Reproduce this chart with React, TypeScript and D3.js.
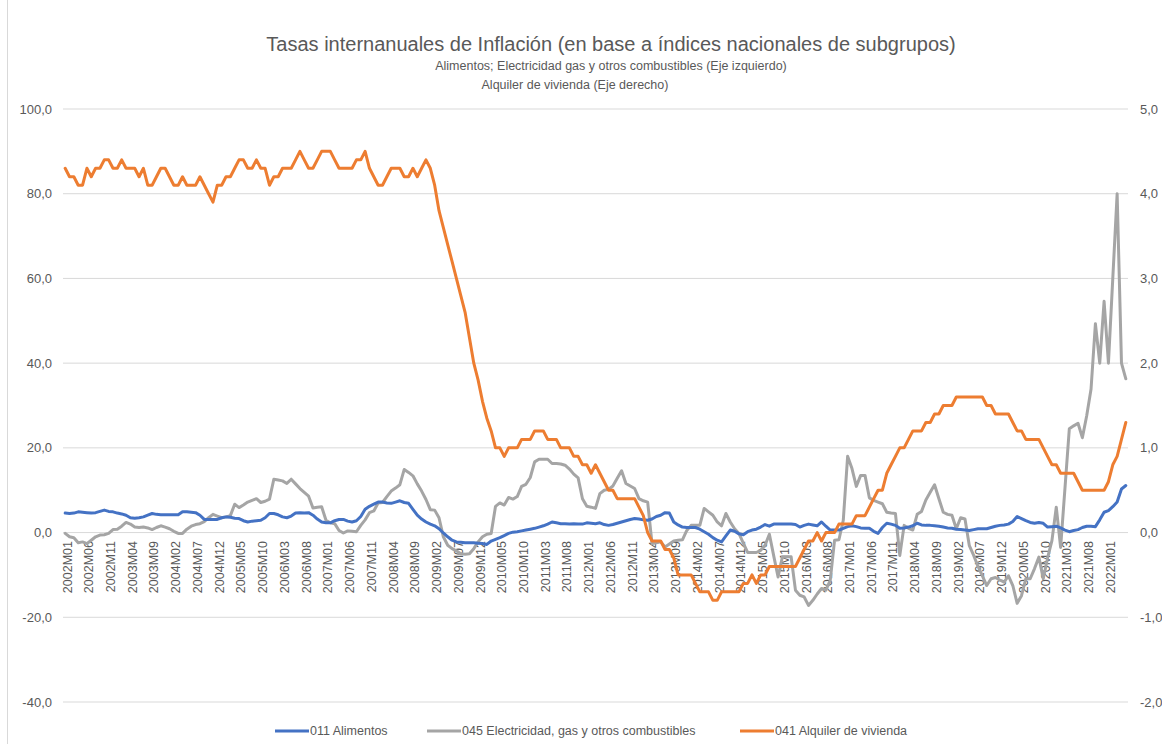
import React from "react";
import * as d3 from "d3";

// categories: monthly, 2002M01 .. 2022M05
const startYear = 2002;
const nMonths = 245;
const months = d3.range(nMonths).map(
  (i) => `${startYear + Math.floor(i / 12)}M${String((i % 12) + 1).padStart(2, "0")}`
);

// 011 Alimentos (left axis), one row per year
const alimentos = [
  4.6, 4.5, 4.6, 4.9, 4.8, 4.7, 4.6, 4.7, 5.0, 5.3, 5.0, 4.9,
  4.6, 4.4, 4.1, 3.5, 3.4, 3.5, 3.7, 4.1, 4.5, 4.3, 4.2, 4.2,
  4.2, 4.2, 4.2, 4.9, 4.9, 4.8, 4.7, 4.1, 3.1, 3.1, 3.1, 3.1,
  3.5, 3.7, 3.6, 3.4, 3.3, 2.8, 2.5, 2.7, 2.8, 2.9, 3.5, 4.5,
  4.5, 4.2, 3.7, 3.5, 3.9, 4.6, 4.7, 4.6, 4.7, 4.1, 3.2, 2.5,
  2.3, 2.3, 2.8, 3.1, 3.1, 2.7, 2.5, 2.8, 3.8, 5.5, 6.2, 6.7,
  7.2, 7.2, 7.0, 6.9, 7.2, 7.5, 7.1, 6.9, 5.5, 4.1, 3.2, 2.5,
  2.0, 1.6, 0.9, -0.1, -1.0, -1.8, -2.2, -2.3, -2.4, -2.4, -2.4, -2.5,
  -2.6, -2.8, -2.0, -1.6, -1.2, -0.7, -0.2, 0.1, 0.2, 0.4, 0.6, 0.8,
  1.0, 1.3, 1.6, 2.0, 2.5, 2.3, 2.1, 2.1, 2.0, 2.1, 2.0, 2.0,
  2.3, 2.2, 2.1, 2.3, 1.9, 1.7, 1.9, 2.2, 2.5, 2.8, 3.1, 3.3,
  3.2, 3.0, 2.9, 3.2, 3.8, 4.1, 4.7, 4.6, 2.5, 1.8, 1.3, 1.2,
  1.2, 1.2, 0.8, 0.2, -0.4, -1.2, -1.8, -2.2, -0.8, 0.6, 0.3, -0.3,
  -0.5, 0.2, 0.6, 0.8, 1.3, 1.9, 1.5, 2.0, 2.0, 2.0, 2.0, 2.0,
  1.9, 1.3, 1.7, 2.0, 1.8, 1.6, 2.5, 1.5, 0.6, 0.6, 0.6, 1.0,
  1.4, 1.6, 1.4, 1.1, 1.0, 1.0, 0.3, -0.2, 1.2, 2.2, 2.0, 1.7,
  1.0, 1.1, 1.3, 1.6, 2.2, 1.8, 1.7, 1.7, 1.6, 1.5, 1.3, 1.1,
  1.0, 0.8, 0.7, 0.6, 0.5, 0.7, 0.9, 0.9, 0.9, 1.2, 1.5, 1.7,
  1.8, 2.0, 2.6, 3.8, 3.3, 2.8, 2.4, 2.2, 2.4, 2.2, 1.3, 1.4,
  1.5, 1.1, 0.6, 0.2, 0.5, 0.7, 1.2, 1.5, 1.5, 1.4, 3.0, 4.8,
  5.2, 6.1, 7.2, 10.3, 11.1,
];

// 045 Electricidad, gas y otros combustibles (left axis)
const electricidad = [
  -0.2, -1.0, -1.2, -2.4, -2.2, -2.6, -1.8, -1.0, -0.6, -0.5, -0.2, 0.7,
  0.8, 1.5, 2.4, 2.0, 1.3, 1.2, 1.3, 1.1, 0.7, 1.2, 1.6, 1.3,
  0.9, 0.3, -0.2, -0.2, 0.8, 1.5, 1.9, 2.1, 2.6, 3.5, 4.3, 3.9,
  3.5, 3.7, 4.0, 6.7, 5.9, 6.5, 7.2, 7.6, 8.0, 7.1, 7.4, 7.9,
  12.6, 12.4, 12.2, 11.6, 12.6, 11.5, 10.4, 9.5, 8.6, 5.8, 6.0, 6.1,
  2.9, 2.3, 2.1, 0.5, -0.1, 0.4, 0.3, 0.2, 1.7, 3.0, 4.7, 5.1,
  7.0, 7.1, 8.5, 9.8, 10.5, 11.3, 14.9, 14.2, 13.4, 11.5, 9.8, 7.8,
  5.4, 5.3, 3.5, -1.0, -3.0, -3.8, -4.3, -5.0, -5.1, -5.0, -3.8, -2.2,
  -1.0, -0.4, -0.2, 6.2, 7.0, 6.5, 8.3, 7.9, 8.5, 10.9, 11.4, 13.0,
  16.7, 17.3, 17.3, 17.3, 16.3, 16.3, 16.2, 15.9, 15.0, 13.8, 12.9, 8.0,
  6.2, 6.0, 5.7, 9.2, 10.0, 10.2, 11.0, 12.8, 14.6, 11.6, 11.0, 10.4,
  8.0, 7.5, 7.2, -2.6, -2.4, -2.2, -3.4, -2.7, -2.0, -1.8, -1.7, 0.5,
  1.7, 1.7, 1.7, 5.7, 4.9, 4.1, 2.5, 1.6, 4.5, 2.5, 0.9, -0.2,
  -2.5, -4.7, -4.7, -4.7, -4.2, -3.0, -0.4, -5.5, -10.5, -5.7, -5.7, -5.7,
  -13.6, -14.8, -15.2, -17.2, -16.0, -14.5, -13.2, -13.6, -11.3, -1.8, -1.7, 2.9,
  18.0, 15.1, 10.9, 13.5, 13.5, 8.2, 7.6, 7.2, 6.8, 4.8, 4.6, 4.5,
  -5.4, 1.7, 1.0, 0.6, 4.3, 5.0, 7.7, 9.5, 11.3, 8.0, 4.8, 4.3,
  4.1, 0.9, 3.5, 3.2, -3.1, -5.4, -8.0, -10.2, -12.5, -10.9, -10.6, -11.2,
  -11.7, -10.2, -12.5, -16.7, -14.9, -10.9, -10.9, -8.5, -5.8, -10.9, -6.0, -1.9,
  6.0, -3.5, 10.5, 24.5, 25.2, 25.8, 22.4, 27.6, 33.9, 49.3, 40.0, 54.6,
  40.0, 60.0, 80.0, 40.0, 36.3,
];

// 041 Alquiler de vivienda (right axis)
const alquiler = [
  4.3, 4.2, 4.2, 4.1, 4.1, 4.3, 4.2, 4.3, 4.3, 4.4, 4.4, 4.3,
  4.3, 4.4, 4.3, 4.3, 4.3, 4.2, 4.3, 4.1, 4.1, 4.2, 4.3, 4.3,
  4.2, 4.1, 4.1, 4.2, 4.1, 4.1, 4.1, 4.2, 4.1, 4.0, 3.9, 4.1,
  4.1, 4.2, 4.2, 4.3, 4.4, 4.4, 4.3, 4.3, 4.4, 4.3, 4.3, 4.1,
  4.2, 4.2, 4.3, 4.3, 4.3, 4.4, 4.5, 4.4, 4.3, 4.3, 4.4, 4.5,
  4.5, 4.5, 4.4, 4.3, 4.3, 4.3, 4.3, 4.4, 4.4, 4.5, 4.3, 4.2,
  4.1, 4.1, 4.2, 4.3, 4.3, 4.3, 4.2, 4.2, 4.3, 4.2, 4.3, 4.4,
  4.3, 4.1, 3.8, 3.6, 3.4, 3.2, 3.0, 2.8, 2.6, 2.3, 2.0, 1.8,
  1.55, 1.35, 1.2, 1.0, 1.0, 0.9, 1.0, 1.0, 1.0, 1.1, 1.1, 1.1,
  1.2, 1.2, 1.2, 1.1, 1.1, 1.1, 1.0, 1.0, 1.0, 0.9, 0.9, 0.8,
  0.8, 0.7, 0.8, 0.7, 0.6, 0.5, 0.5, 0.4, 0.4, 0.4, 0.4, 0.4,
  0.3, 0.2, 0.0, -0.1, -0.1, -0.1, -0.2, -0.2, -0.3, -0.5, -0.5, -0.5,
  -0.5, -0.6, -0.7, -0.7, -0.7, -0.8, -0.8, -0.7, -0.7, -0.7, -0.7, -0.7,
  -0.6, -0.6, -0.5, -0.6, -0.5, -0.5, -0.4, -0.4, -0.4, -0.4, -0.4, -0.4,
  -0.4, -0.3, -0.2, -0.1, -0.1, 0.0, -0.1, 0.0, 0.0, 0.0, 0.1, 0.1,
  0.1, 0.1, 0.2, 0.2, 0.2, 0.3, 0.4, 0.5, 0.5, 0.7, 0.8, 0.9,
  1.0, 1.0, 1.1, 1.2, 1.2, 1.2, 1.3, 1.3, 1.4, 1.4, 1.5, 1.5,
  1.5, 1.6, 1.6, 1.6, 1.6, 1.6, 1.6, 1.6, 1.5, 1.5, 1.4, 1.4,
  1.4, 1.4, 1.3, 1.2, 1.2, 1.1, 1.1, 1.1, 1.1, 1.0, 0.9, 0.8,
  0.8, 0.7, 0.7, 0.7, 0.7, 0.6, 0.5, 0.5, 0.5, 0.5, 0.5, 0.5,
  0.6, 0.8, 0.9, 1.1, 1.3,
];

const leftTicks = [-40, -20, 0, 20, 40, 60, 80, 100];
const rightTicks = [-2, -1, 0, 1, 2, 3, 4, 5];

const series = [
  { name: "045 Electricidad, gas y otros combustibles", values: electricidad, color: "#A5A5A5", axis: "left" },
  { name: "011 Alimentos", values: alimentos, color: "#4472C4", axis: "left" },
  { name: "041 Alquiler de vivienda", values: alquiler, color: "#ED7D31", axis: "right" },
];

const legendItems = [
  { name: "011 Alimentos", color: "#4472C4", x: 275 },
  { name: "045 Electricidad, gas y otros combustibles", color: "#A5A5A5", x: 427 },
  { name: "041 Alquiler de vivienda", color: "#ED7D31", x: 740 },
];

const W = 1162;
const H = 744;
const FONT = "'Liberation Sans', Arial, sans-serif";
const TEXT = "#595959";

const fmt = (v: number) => v.toFixed(1).replace(".", ",");

export default function App() {
  const plotLeft = 63;
  const plotRight = 1128;

  const x = d3.scaleBand<string>().domain(months).range([plotLeft, plotRight]).paddingInner(0).paddingOuter(0);
  const cx = (m: string) => (x(m) as number) + x.bandwidth() / 2;

  const yL = d3.scaleLinear().domain([-40, 100]).range([702, 109]);
  const yR = d3.scaleLinear().domain([-2, 5]).range([702, 109]);

  const makeLine = (axis: string) =>
    d3
      .line<number>()
      .x((_, i) => cx(months[i]))
      .y((d) => (axis === "left" ? yL(d) : yR(d)));

  return (
    <svg
      width={W}
      height={H}
      style={{ position: "absolute", left: 0, top: 0, background: "#fff", fontFamily: FONT }}
    >
      <rect x={0} y={0} width={W} height={H} fill="#fff" />
      <line x1={7.5} x2={7.5} y1={0} y2={H} stroke="#d9d9d9" />

      {/* title */}
      <text x={611} y={51} textAnchor="middle" fontSize={20} fill={TEXT}>
        Tasas internanuales de Inflación (en base a índices nacionales de subgrupos)
      </text>
      <text x={611} y={70} textAnchor="middle" fontSize={12.5} fill={TEXT}>
        Alimentos; Electricidad gas y otros combustibles (Eje izquierdo)
      </text>
      <text x={575} y={89} textAnchor="middle" fontSize={12.5} fill={TEXT}>
        Alquiler de vivienda (Eje derecho)
      </text>

      {/* grid */}
      {leftTicks.map((t) => (
        <line key={"g" + t} x1={plotLeft} x2={plotRight} y1={yL(t)} y2={yL(t)} stroke="#d9d9d9" strokeWidth={1} />
      ))}

      {/* left axis labels */}
      {leftTicks.map((t) => (
        <text key={"l" + t} x={52} y={yL(t)} dy="0.35em" textAnchor="end" fontSize={13} fill={TEXT}>
          {fmt(t)}
        </text>
      ))}

      {/* right axis labels */}
      {rightTicks.map((t) => (
        <text key={"r" + t} x={1140} y={yR(t)} dy="0.35em" textAnchor="start" fontSize={13} fill={TEXT}>
          {fmt(t)}
        </text>
      ))}

      {/* x axis labels every 5 months */}
      {months
        .filter((_, i) => i % 5 === 0)
        .map((m) => {
          const px = cx(m) + 2;
          const py = 541;
          return (
            <text
              key={m}
              x={px}
              y={py}
              dy="0.35em"
              textAnchor="end"
              fontSize={12.5}
              fill={TEXT}
              transform={`rotate(-90, ${px}, ${py})`}
            >
              {m}
            </text>
          );
        })}

      {/* lines */}
      {series.map((s) => (
        <path
          key={s.name}
          d={makeLine(s.axis)(s.values) as string}
          fill="none"
          stroke={s.color}
          strokeWidth={3}
          strokeLinejoin="round"
          strokeLinecap="round"
        />
      ))}

      {/* legend */}
      {legendItems.map((l) => (
        <g key={l.name}>
          <line x1={l.x} x2={l.x + 34} y1={731} y2={731} stroke={l.color} strokeWidth={3} />
          <text x={l.x + 35} y={731} dy="0.35em" fontSize={12.5} fill={TEXT}>
            {l.name}
          </text>
        </g>
      ))}
    </svg>
  );
}
